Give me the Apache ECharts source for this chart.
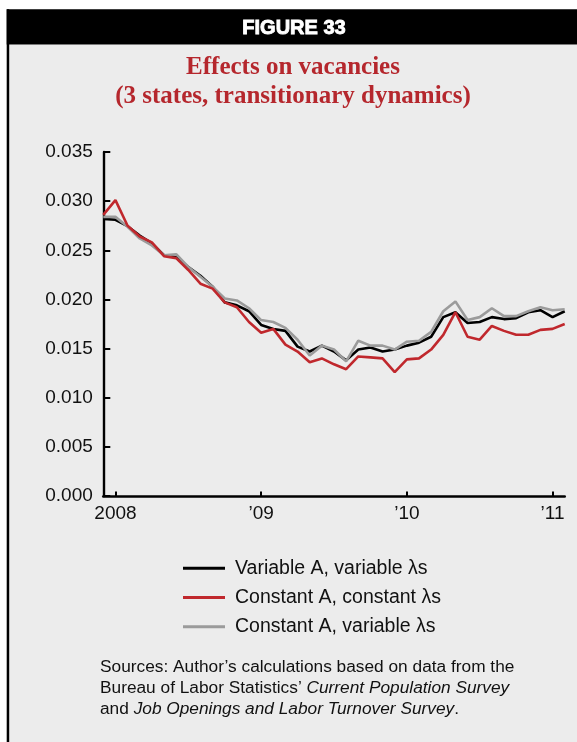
<!DOCTYPE html>
<html>
<head>
<meta charset="utf-8">
<script src="https://cdn.jsdelivr.net/npm/echarts@6/dist/echarts.min.js"></script>
<style>
html,body{margin:0;padding:0;background:#fff;}
#c{width:577px;height:742px;}
</style>
</head>
<body>
<div id="c"></div>
<script>
// Monthly observations, Dec 2007 .. Feb 2011
var months = ['2007-12',
  '2008-01','2008-02','2008-03','2008-04','2008-05','2008-06','2008-07','2008-08','2008-09','2008-10','2008-11','2008-12',
  '2009-01','2009-02','2009-03','2009-04','2009-05','2009-06','2009-07','2009-08','2009-09','2009-10','2009-11','2009-12',
  '2010-01','2010-02','2010-03','2010-04','2010-05','2010-06','2010-07','2010-08','2010-09','2010-10','2010-11','2010-12',
  '2011-01','2011-02'];

var variableAVariableL = [0.0282,
  0.0281,0.02745,0.0265,0.0257,0.0245,0.0243,0.0233,0.0224,0.0213,0.0197,0.0194,0.0188,
  0.0174,0.0170,0.0168,0.0152,0.0147,0.0153,0.0147,0.0138,0.0149,0.0151,0.0147,0.0149,
  0.0153,0.0156,0.0162,0.0182,0.0187,0.0176,0.0177,0.0182,0.0180,0.0181,0.0187,0.0189,
  0.0182,0.0188];

var constantAConstantL = [0.0286,
  0.0301,0.0275,0.0264,0.0258,0.0244,0.0242,0.0230,0.0216,0.0211,0.0197,0.0192,0.0177,
  0.0166,0.0170,0.0154,0.0147,0.0136,0.0140,0.0134,0.0129,0.0142,0.0141,0.0140,0.0126,
  0.0139,0.0140,0.0149,0.0164,0.0187,0.0162,0.0159,0.0173,0.0168,0.0164,0.0164,0.0169,
  0.0170,0.0175];

var constantAVariableL = [0.0284,
  0.0284,0.0274,0.0262,0.0255,0.0245,0.0246,0.0233,0.0223,0.0213,0.0201,0.0199,0.0191,
  0.0179,0.0177,0.0171,0.0159,0.0143,0.0153,0.0149,0.0137,0.0158,0.0153,0.0153,0.0149,
  0.0157,0.0158,0.0167,0.0188,0.0198,0.0179,0.0182,0.0191,0.0183,0.0183,0.0188,0.0192,
  0.0189,0.0190];

var tickMonths = ['2008-01','2009-01','2010-01','2011-01'];
var tickLabels = ['2008','\u201909','\u201910','\u201911'];

var seriesNames = ['Variable A, variable \u03bbs','Constant A, constant \u03bbs','Constant A, variable \u03bbs'];

var chart = echarts.init(document.getElementById('c'), null, {renderer:'canvas'});

function isTick(idx){ return tickMonths.indexOf(months[idx]) >= 0; }

var sansFont = '"Liberation Sans", Arial, Helvetica, sans-serif';

var option = {
  backgroundColor: '#ffffff',
  animation: false,
  graphic: [
    {type:'rect', z:-10, shape:{x:9, y:44.5, width:568, height:698}, style:{fill:'#ececec'}},
    {type:'rect', z:-9, shape:{x:6.7, y:9.3, width:2.5, height:733}, style:{fill:'#000'}},
    {type:'rect', z:-9, shape:{x:6.7, y:9.3, width:571, height:35.2}, style:{fill:'#000'}},
    {type:'text', z:5, x:294, y:28, style:{text:'FIGURE 33', fill:'#fff', stroke:'#fff', lineWidth:0.9, font:'bold 20px "Liberation Sans", Arial, sans-serif', align:'center', verticalAlign:'middle'}},
    {type:'text', z:5, x:293, y:68, style:{text:'Effects on vacancies', fill:'#b5272d', font:'bold 25px "Liberation Serif", "Times New Roman", serif', align:'center', verticalAlign:'middle'}},
    {type:'text', z:5, x:293, y:97, style:{text:'(3 states, transitionary dynamics)', fill:'#b5272d', font:'bold 25px "Liberation Serif", "Times New Roman", serif', align:'center', verticalAlign:'middle'}},
    {type:'text', z:5, x:100, y:657, style:{
      text:'Sources: Author\u2019s calculations based on data from the\nBureau of Labor Statistics\u2019 {i|Current Population Survey}\nand {i|Job Openings and Labor Turnover Survey}.',
      fill:'#111', font:'17.3px "Liberation Sans", Arial, sans-serif', lineHeight:20.8,
      rich:{ i:{fontStyle:'italic', fontSize:17.3, fontFamily:'"Liberation Sans", Arial, sans-serif', fill:'#111', lineHeight:20.8} }
    }}
  ],
  legend: {
    orient:'vertical', left:183, top:553.5, padding:0,
    itemWidth:42, itemHeight:3, itemGap:0,
    data: seriesNames,
    icon:'rect',
    textStyle:{fontFamily:sansFont, fontSize:19.5, color:'#111', lineHeight:29.3, padding:[0,0,0,5]},
    selectedMode:false
  },
  grid: {left:103.3, right:12.3, top:152, bottom:246, containLabel:false},
  xAxis: {
    type:'category', data: months, boundaryGap:false,
    axisLine:{show:true, lineStyle:{color:'#000', width:2.6}},
    axisTick:{show:true, inside:true, length:4.5, lineStyle:{color:'#000', width:2}, interval:function(i){return isTick(i);}},
    axisLabel:{interval:function(i){return isTick(i);}, formatter:function(v){var k=tickMonths.indexOf(v); return k>=0?tickLabels[k]:'';},
      color:'#111', fontFamily:sansFont, fontSize:19, margin:8},
    splitLine:{show:false}
  },
  yAxis: {
    type:'value', min:0, max:0.035, interval:0.005,
    axisLine:{show:true, lineStyle:{color:'#000', width:2.4}},
    axisTick:{show:true, inside:true, length:7, lineStyle:{color:'#000', width:2}},
    axisLabel:{formatter:function(v){return v.toFixed(3);}, color:'#111', fontFamily:sansFont, fontSize:19, margin:10.5},
    splitLine:{show:false}
  },
  series: [
    {name:seriesNames[0], type:'line', data:variableAVariableL, symbol:'none', z:3, color:'#000000', lineStyle:{width:2.6, color:'#000000'}},
    {name:seriesNames[1], type:'line', data:constantAConstantL, symbol:'none', z:5, color:'#c0282d', lineStyle:{width:2.6, color:'#c0282d'}},
    {name:seriesNames[2], type:'line', data:constantAVariableL, symbol:'none', z:4, color:'#9b9b9b', lineStyle:{width:2.6, color:'#9b9b9b'}}
  ]
};
chart.setOption(option);
</script>
</body>
</html>
